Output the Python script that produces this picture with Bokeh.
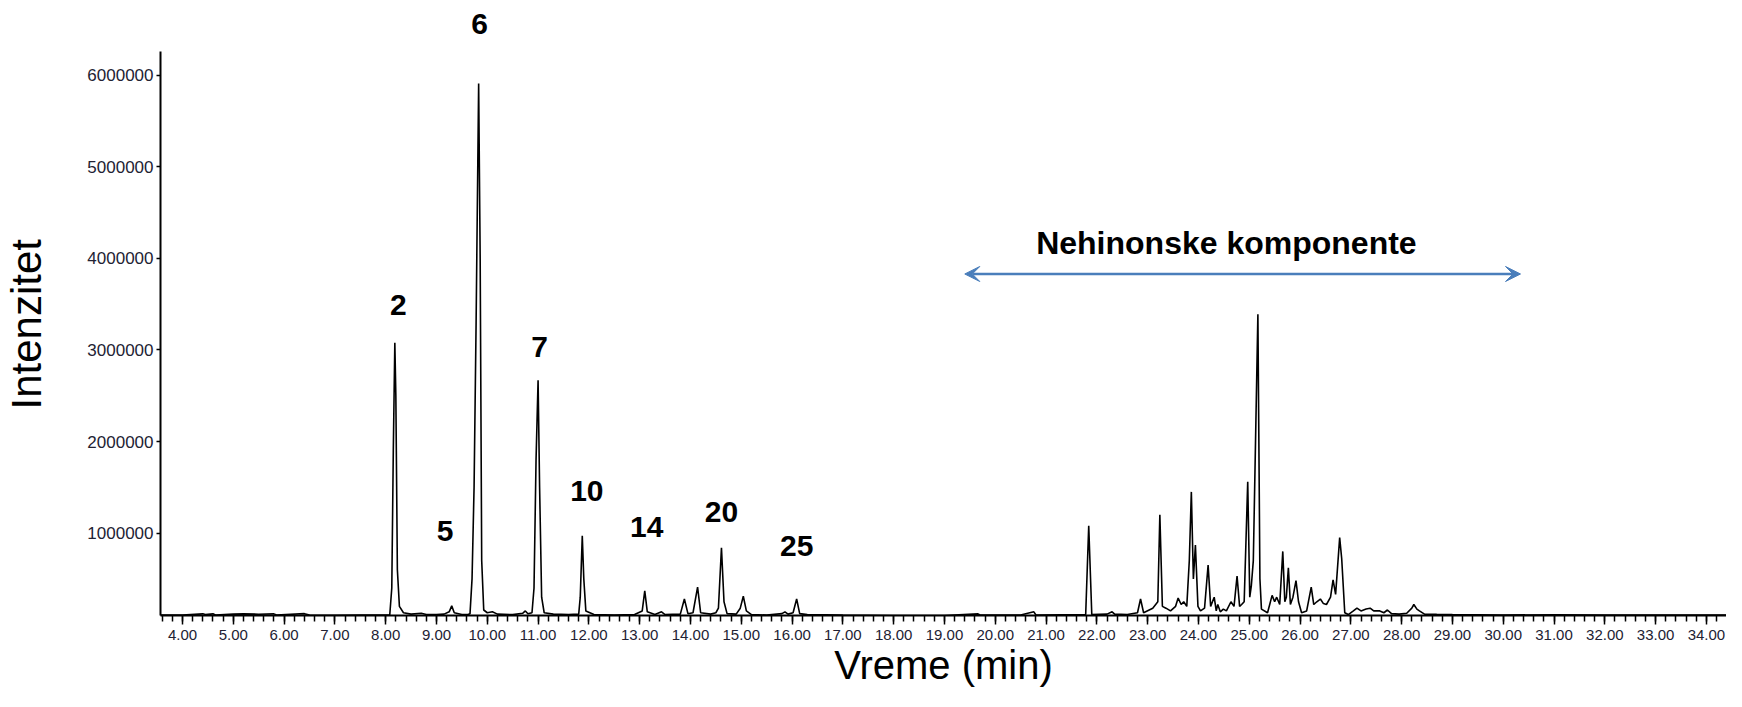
from bokeh.plotting import figure
from bokeh.models import Range1d, FixedTicker, PrintfTickFormatter, Arrow, VeeHead, Title
from bokeh.core.properties import value
from bokeh.embed import file_html
from bokeh.resources import INLINE

# ---------------- data ----------------
rt = [3.55, 4.0, 4.4, 4.45, 4.6, 4.65, 5.0, 5.2, 5.5, 5.8, 5.85, 6.4, 6.5, 7.0, 7.5, 8.0,
      8.08, 8.12, 8.15, 8.18, 8.20, 8.23, 8.27, 8.35, 8.5, 8.7, 8.8, 9.0, 9.15, 9.25, 9.30, 9.35, 9.5, 9.62,
      9.66, 9.70, 9.74, 9.78, 9.83, 9.86, 9.89, 9.93, 10.0, 10.1, 10.2, 10.5, 10.7, 10.75, 10.8, 10.88,
      10.92, 10.96, 11.0, 11.03, 11.07, 11.12, 11.3, 11.6, 11.8,
      11.83, 11.87, 11.9, 11.94, 12.1, 12.5, 12.9,
      13.05, 13.1, 13.15, 13.3, 13.43, 13.5, 13.8,
      13.88, 13.95, 14.05, 14.14, 14.2, 14.4, 14.5, 14.55, 14.61, 14.66, 14.72, 14.9, 14.98, 15.04, 15.1,
      15.2, 15.5, 15.8, 15.86, 15.92, 16.02, 16.09, 16.15, 16.3,
      17.0, 18.0, 19.0, 19.66, 19.7, 20.5, 20.76, 20.8, 21.3, 21.78, 21.84, 21.9, 22.2, 22.3, 22.35,
      22.6, 22.8, 22.86, 22.92, 23.1, 23.2, 23.24, 23.29, 23.36, 23.45, 23.55, 23.6, 23.66, 23.71,
      23.77, 23.82, 23.86, 23.9, 23.94, 23.99, 24.04, 24.12, 24.19, 24.24, 24.31, 24.35, 24.38,
      24.43, 24.49, 24.55, 24.64, 24.7, 24.76, 24.81, 24.85, 24.9, 24.97, 25.01, 25.04, 25.08,
      25.17, 25.21, 25.24, 25.36, 25.45, 25.5, 25.54, 25.6, 25.66, 25.7, 25.73, 25.77, 25.81,
      25.86, 25.92, 25.97, 26.03, 26.13, 26.22, 26.27, 26.33, 26.4, 26.46, 26.52, 26.6, 26.65,
      26.7, 26.78, 26.82, 26.88, 26.95, 27.05, 27.12, 27.2, 27.3, 27.38, 27.45, 27.57, 27.65,
      27.72, 27.8, 27.95, 28.1, 28.2, 28.24, 28.3, 28.35, 28.45, 28.69, 29.0, 30.0, 31.0, 32.0,
      33.0, 34.39]
intensity = [105000, 104000, 118000, 110000, 118000, 106000, 115000, 118000, 114000, 118000, 105000, 120000, 104000, 102000, 105000, 105000,
             105000, 400000, 1900000, 3080000, 2500000, 600000, 200000, 130000, 115000, 125000, 110000, 110000, 115000, 140000, 205000, 130000, 110000, 110000,
             120000, 500000, 1500000, 3300000, 5910000, 4000000, 700000, 160000, 130000, 140000, 115000, 110000, 125000, 150000, 120000, 130000,
             400000, 1800000, 2670000, 1500000, 300000, 130000, 115000, 110000, 115000,
             300000, 970000, 500000, 150000, 110000, 105000, 110000,
             150000, 370000, 140000, 110000, 140000, 110000, 115000,
             280000, 120000, 130000, 410000, 130000, 115000, 130000, 180000, 840000, 250000, 120000, 115000, 180000, 310000, 150000,
             110000, 105000, 120000, 140000, 115000, 130000, 280000, 120000, 110000,
             105000, 100000, 100000, 118000, 105000, 105000, 140000, 105000, 108000, 110000, 1080000, 110000, 115000, 140000, 115000,
             110000, 130000, 280000, 130000, 180000, 250000, 1200000, 200000, 180000, 150000, 200000, 290000, 220000, 250000,
             200000, 700000, 1450000, 500000, 870000, 200000, 150000, 180000, 650000, 200000, 300000, 150000, 220000,
             140000, 170000, 150000, 250000, 200000, 530000, 200000, 220000, 250000, 1560000, 300000, 420000, 700000,
             3390000, 500000, 170000, 130000, 320000, 250000, 300000, 220000, 800000, 250000, 300000, 620000, 220000,
             300000, 480000, 250000, 130000, 150000, 410000, 220000, 250000, 280000, 230000, 220000, 300000, 490000,
             330000, 950000, 720000, 130000, 110000, 150000, 180000, 150000, 170000, 180000, 150000, 150000, 130000,
             160000, 120000, 115000, 125000, 180000, 220000, 170000, 150000, 115000, 112000, 110000, 105000, 108000, 105000,
             105000, 105000]

x_major = list(range(4, 35))
y_ticks = [1000000, 2000000, 3000000, 4000000, 5000000, 6000000]
y_tick_labels = ["1000000", "2000000", "3000000", "4000000", "5000000", "6000000"]

peak_labels = ["2", "5", "6", "7", "10", "14", "20", "25"]
peak_label_rt = [8.25, 9.17, 9.85, 11.03, 11.96, 13.14, 14.61, 16.09]
peak_label_y = [3490000, 1020000, 6560000, 3030000, 1460000, 1070000, 1230000, 860000]

region_text = "Nehinonske komponente"
region_start, region_end = 19.40, 30.34
region_arrow_y = 3830000
region_text_rt, region_text_y = 24.55, 4170000

x_title, y_title = "Vreme (min)", "Intenzitet"

# ---------------- figure ----------------
FONT = "Liberation Sans"
p = figure(width=1726, height=691, output_backend="svg", toolbar_location=None,
           x_range=Range1d(3.567, 34.395), y_range=Range1d(100000, 6817000),
           min_border_left=159, min_border_right=0, min_border_top=0, min_border_bottom=76)
p.outline_line_color = None
p.xgrid.visible = False
p.ygrid.visible = False
p.background_fill_color = "white"
p.border_fill_color = "white"

p.line(rt, intensity, line_color="black", line_width=1.6)

p.text(x=peak_label_rt, y=peak_label_y, text=peak_labels,
       text_font=value(FONT), text_font_style="bold", text_font_size="30px",
       text_align="center", text_baseline="middle", text_color="black")

p.text(x=[region_text_rt], y=[region_text_y], text=[region_text],
       text_font=value(FONT), text_font_style="bold", text_font_size="32px",
       text_align="center", text_baseline="middle", text_color="black")

arrow_color = "#4A7EBB"
p.add_layout(Arrow(start=VeeHead(size=15, fill_color=arrow_color, line_color=arrow_color),
                   end=VeeHead(size=15, fill_color=arrow_color, line_color=arrow_color),
                   x_start=region_start, y_start=region_arrow_y,
                   x_end=region_end, y_end=region_arrow_y,
                   line_color=arrow_color, line_width=2.5))

# x axis
xa = p.xaxis[0]
xa.ticker = FixedTicker(ticks=x_major, minor_ticks=[m / 5 for m in range(18, 173)])
xa.formatter = PrintfTickFormatter(format="%.2f")
xa.axis_line_width = 2
xa.axis_line_color = "black"
xa.major_tick_in = 0
xa.major_tick_out = 9
xa.minor_tick_in = 0
xa.minor_tick_out = 6
xa.major_tick_line_width = 1.5
xa.minor_tick_line_width = 1.5
xa.major_tick_line_color = "black"
xa.minor_tick_line_color = "black"
xa.major_label_text_font = FONT
xa.major_label_text_font_size = "15px"
xa.major_label_text_color = "#222233"
xa.major_label_standoff = 5
xa.axis_label = x_title
xa.axis_label_text_font = FONT
xa.axis_label_text_font_size = "40px"
xa.axis_label_text_font_style = "normal"
xa.axis_label_text_color = "black"
xa.axis_label_standoff = 0

# y axis
ya = p.yaxis[0]
ya.ticker = FixedTicker(ticks=y_ticks, minor_ticks=[])
ya.major_label_overrides = {t: l for t, l in zip(y_ticks, y_tick_labels)}
ya.bounds = (100000, 6256000)
ya.axis_line_width = 2
ya.axis_line_color = "black"
ya.major_tick_in = 0
ya.major_tick_out = 4
ya.minor_tick_in = 0
ya.minor_tick_out = 0
ya.major_tick_line_width = 1.5
ya.major_tick_line_color = "black"
ya.major_label_text_font = FONT
ya.major_label_text_font_size = "17px"
ya.major_label_text_color = "#222233"
ya.major_label_standoff = 3
# blank spacer label: keeps a gap between tick labels and the y title
ya.axis_label = " "
ya.axis_label_text_font_size = "1px"
ya.axis_label_standoff = 31

# y title, anchored along the frame so it sits where the reference has it
p.add_layout(Title(text=y_title, align="left", offset=206, standoff=0,
                   text_font=FONT, text_font_size="42px", text_font_style="normal",
                   text_color="black"), "left")

open("out.html", "w").write(file_html(p, INLINE))
